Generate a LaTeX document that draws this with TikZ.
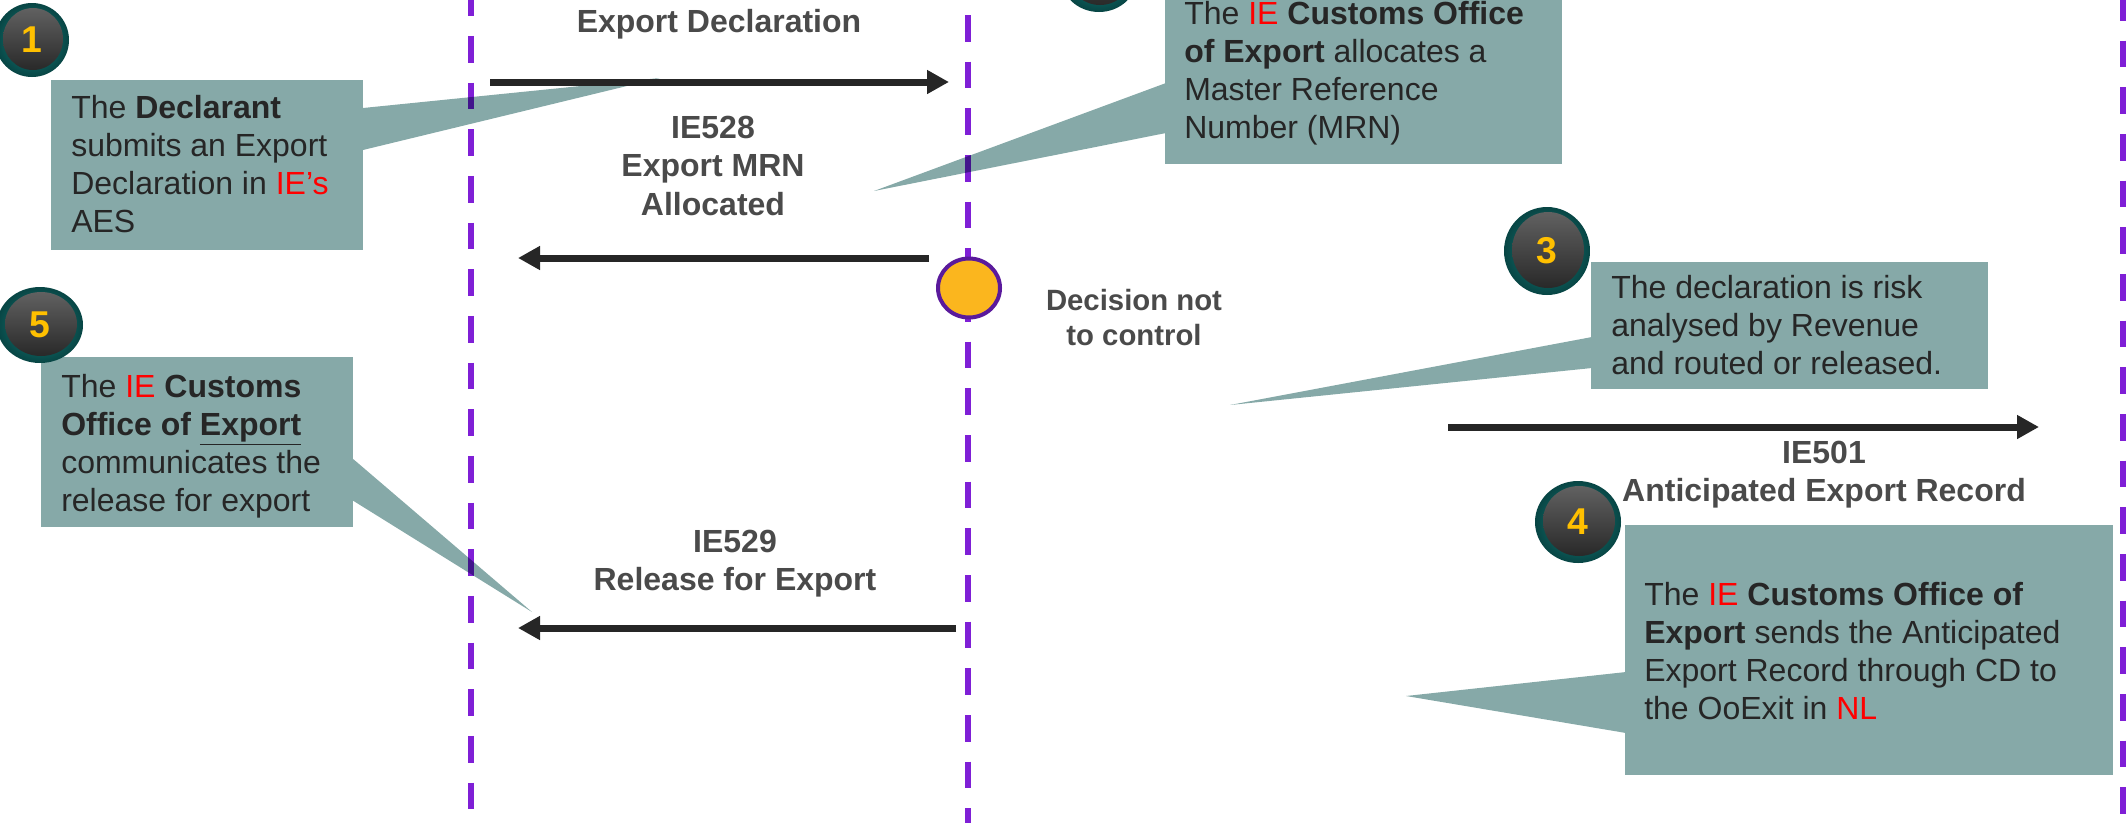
\documentclass[tikz,border=0pt]{standalone}
\usepackage{fontspec}
\setmainfont{Liberation Sans}
\usetikzlibrary{arrows.meta,shapes.geometric,calc}

\definecolor{calloutteal}{HTML}{86A9A8}
\definecolor{lanepurple}{HTML}{7F1FD6}
\definecolor{msgink}{HTML}{262626}
\definecolor{labelgray}{HTML}{4A4A4A}
\definecolor{boxink}{HTML}{262626}
\definecolor{iered}{HTML}{FF0000}
\definecolor{stopfill}{HTML}{FBB61E}
\definecolor{stopedge}{HTML}{5A1A9C}
\definecolor{badgegold}{HTML}{FFC000}
\definecolor{badgerimlight}{HTML}{138A86}
\definecolor{badgerimdark}{HTML}{084544}

% numbered step badge: name, x, y, x radius, y radius, digit
\newcommand\stepbadge[6]{%
  \shade[inner color=badgerimlight, outer color=badgerimdark]
    (#2,#3) ellipse [x radius=#4, y radius=#5];
  \shade[top color=black!62, middle color=black!86, bottom color=black!84]
    ($(#2,#3)+(1,-1)$) ellipse [x radius=#4-7, y radius=#5-6];
  \node[badgenum] (#1) at (#2,#3) {#6};
}

\begin{document}
\begin{tikzpicture}[x=0.75pt,y=-0.75pt,
  lane/.style={draw=lanepurple, line width=4.5pt, dash pattern=on 20pt off 15pt},
  msg/.style={draw=msgink, line width=5.25pt, -{Triangle[length=16.5pt,width=17pt]}},
  boxrect/.style={fill=calloutteal, inner sep=0pt, anchor=north west},
  tail/.style={fill=calloutteal},
  boxtext/.style={anchor=base west, inner sep=0pt, text=boxink,
    font=\fontsize{24}{28.7}\selectfont},
  msglabel/.style={anchor=base, inner sep=0pt, text=labelgray,
    font=\bfseries\fontsize{24}{28.9}\selectfont},
  notelabel/.style={anchor=base, inner sep=0pt, text=labelgray,
    font=\bfseries\fontsize{22}{26.3}\selectfont},
  badgenum/.style={inner sep=0pt, text=badgegold,
    font=\bfseries\fontsize{28}{28}\selectfont},
]
\useasboundingbox (0,0) rectangle (2126,822);

% ---------- callout boxes with their pointers ----------
\node[boxrect, minimum width=312*0.75pt, minimum height=170*0.75pt] (box1) at (51,80) {};
\coordinate (tip1) at (660,78);
\fill[tail] (363,108) -- (tip1) -- (363,150) -- cycle;

\node[boxrect, minimum width=397*0.75pt, minimum height=204*0.75pt] (box2) at (1165,-40) {};
\coordinate (tip2) at (874,191);
\fill[tail] (1166,83) -- (tip2) -- (1166,133) -- cycle;

\node[boxrect, minimum width=397*0.75pt, minimum height=127*0.75pt] (box3) at (1591,262) {};
\coordinate (tip3) at (1230,405);
\fill[tail] (1592,337) -- (tip3) -- (1592,368) -- cycle;

\node[boxrect, minimum width=488*0.75pt, minimum height=250*0.75pt] (box4) at (1625,525) {};
\coordinate (tip4) at (1406,696);
\fill[tail] (1626,672) -- (tip4) -- (1626,733) -- cycle;

\node[boxrect, minimum width=312*0.75pt, minimum height=170*0.75pt] (box5) at (41,357) {};
\coordinate (tip5) at (532,612);
\fill[tail] (352,458) -- (tip5) -- (352,500) -- cycle;

% ---------- messages ----------
\coordinate (declFrom) at (490,82);   \coordinate (declTo) at (949,82);
\coordinate (mrnFrom)  at (929,258);  \coordinate (mrnTo)  at (518,258);
\coordinate (relFrom)  at (956,628);  \coordinate (relTo)  at (518,628);
\coordinate (aerFrom)  at (1448,427); \coordinate (aerTo)  at (2039,427);
\draw[msg] (declFrom) -- (declTo);
\draw[msg] (mrnFrom) -- (mrnTo);
\draw[msg] (relFrom) -- (relTo);
\draw[msg] (aerFrom) -- (aerTo);

% ---------- lifelines ----------
\begin{scope}[blend mode=multiply]
  \draw[lane] (471,-10.7) -- (471,830);
  \draw[lane] (968,15) -- (968,830);
  \draw[lane] (2123,-6) -- (2123,830);
\end{scope}

% decision point on the customs lifeline
\node[ellipse, draw=stopedge, fill=stopfill, line width=3pt,
      minimum width=62*0.75pt, minimum height=59*0.75pt, inner sep=0pt]
      (decision) at (969,288) {};

% ---------- step badges ----------
\stepbadge{step1}{32}{40}{37}{37}{1}
\stepbadge{step2}{1099}{-25}{39}{37}{}
\stepbadge{step3}{1547}{251}{43}{44}{3}
\stepbadge{step4}{1578}{522}{43}{41}{4}
\stepbadge{step5}{40}{325}{43}{38}{5}

% ---------- message labels ----------
\node[msglabel] (declLabel) at (719,32) {Export Declaration};
\node[msglabel] (mrnLabel) at (713,138)
  {\parbox[t]{300pt}{\centering IE528\\Export MRN\\Allocated}};
\node[msglabel] (relLabel) at (735,552)
  {\parbox[t]{300pt}{\centering IE529\\Release for Export}};
\node[msglabel] (aerLabel) at (1824,463)
  {\parbox[t]{400pt}{\centering IE501\\Anticipated Export Record}};
\node[notelabel] (decisionLabel) at (1134,310)
  {\parbox[t]{200pt}{\centering Decision not\\to control}};

% ---------- callout texts ----------
\node[boxtext] (text1) at (71,118)
  {\parbox[t]{300pt}{\raggedright The \textbf{Declarant}\\submits an Export\\Declaration in \textcolor{iered}{IE’s}\\AES}};
\node[boxtext] (text2) at (1184,24)
  {\parbox[t]{300pt}{\raggedright The \textcolor{iered}{IE} \textbf{Customs Office}\\\textbf{of Export} allocates a\\Master Reference\\Number (MRN)}};
\node[boxtext] (text3) at (1611,298)
  {\parbox[t]{300pt}{\raggedright The declaration is risk\\analysed by Revenue\\and routed or released.}};
\node[boxtext] (text4) at (1644,605)
  {\parbox[t]{400pt}{\raggedright The \textcolor{iered}{IE} \textbf{Customs Office of}\\\textbf{Export} sends the Anticipated\\Export Record through CD to\\the OoExit in \textcolor{iered}{NL}}};
\node[boxtext] (text5) at (61,397)
  {\parbox[t]{300pt}{\raggedright The \textcolor{iered}{IE} \textbf{Customs}\\\textbf{Office of \underline{Export}}\\communicates the\\release for export}};
\end{tikzpicture}
\end{document}
